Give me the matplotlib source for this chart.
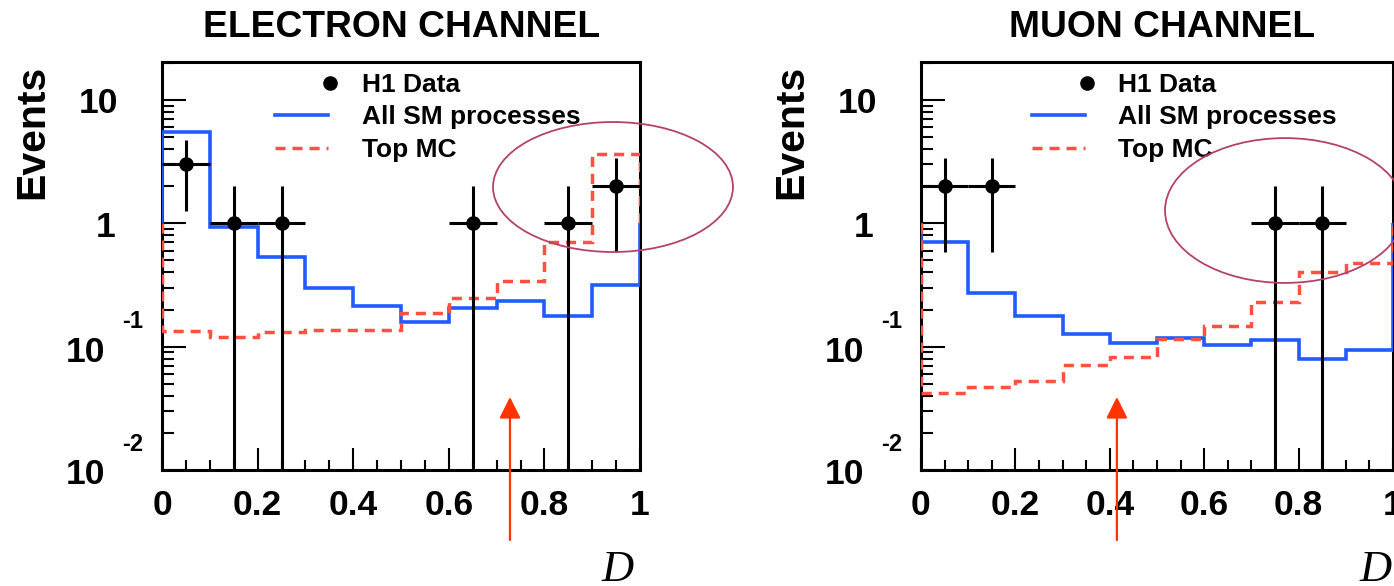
import numpy as np
import matplotlib
matplotlib.use('Agg')
import matplotlib.pyplot as plt
from matplotlib import transforms
from matplotlib.patches import Ellipse, FancyArrowPatch, ArrowStyle
from matplotlib.ticker import LogLocator, MultipleLocator, NullFormatter

plt.rcParams['font.family'] = ['Liberation Sans', 'DejaVu Sans']
plt.rcParams['font.weight'] = 'bold'

# binning of the discriminator D
bin_edges = [0.0, 0.1, 0.2, 0.3, 0.4, 0.5, 0.6, 0.7, 0.8, 0.9, 1.0]
bin_half = 0.05

# electron channel
ele_data_x = [0.05, 0.15, 0.25, 0.65, 0.85, 0.95]
ele_data_n = [3, 1, 1, 1, 1, 2]
ele_sm = [5.5, 0.94, 0.53, 0.30, 0.213, 0.159, 0.205, 0.236, 0.178, 0.316]
ele_top = [0.133, 0.120, 0.132, 0.137, 0.137, 0.188, 0.247, 0.34, 0.70, 3.65]

# muon channel
mu_data_x = [0.05, 0.15, 0.75, 0.85]
mu_data_n = [2, 2, 1, 1]
mu_sm = [0.70, 0.27, 0.178, 0.126, 0.108, 0.117, 0.104, 0.113, 0.080, 0.094]
mu_top = [0.042, 0.047, 0.053, 0.071, 0.082, 0.115, 0.147, 0.229, 0.40, 0.48]

xtick_vals = [0, 0.2, 0.4, 0.6, 0.8, 1.0]
xtick_labels = ['0', '0.2', '0.4', '0.6', '0.8', '1']
ytick_vals = [10, 1, 0.1, 0.01]
ytick_base = ['10', '1', '10', '10']
ytick_exp = ['', '', '-1', '-2']

legend_labels = ['H1 Data', 'All SM processes', 'Top MC']

blue = '#1f5bff'
red = '#ff5040'
ring = '#b5416b'
arrow_col = '#ff3300'

W, H = 1394, 586
fig = plt.figure(figsize=(W / 100, H / 100), dpi=100)
ax_e = fig.add_axes([162 / W, 1 - 470 / H, 478 / W, 408 / H])
ax_m = fig.add_axes([921 / W, 1 - 470 / H, 472 / W, 408 / H])


def px(ax, dx, dy):
    # offset in pixels, x in axes fraction, y in data
    base = transforms.blended_transform_factory(ax.transAxes, ax.transData)
    return base + transforms.ScaledTranslation(dx / 100, dy / 100, fig.dpi_scale_trans)


def panel(ax, sm, top, dx, dn, d_xpos):
    ax.set_yscale('log')
    ax.set_xlim(0, 1)
    ax.set_ylim(0.01, 20.3)

    # ROOT draws the outline edges down to 1 on log scale
    ax.stairs(sm, bin_edges, baseline=1.0, color=blue, lw=2.6, zorder=3)
    ax.stairs(top, bin_edges, baseline=1.0, color=red, lw=2.5,
              linestyle=(0, (2.9, 2.0)), zorder=3)

    dn = np.array(dn, dtype=float)
    ax.errorbar(dx, dn, yerr=np.sqrt(dn), xerr=bin_half, fmt='o', color='k',
                ms=9.5, elinewidth=2.2, capsize=0, zorder=5)

    ax.set_xticks(xtick_vals, labels=xtick_labels)
    ax.xaxis.set_minor_locator(MultipleLocator(0.05))
    ax.yaxis.set_major_locator(LogLocator(base=10))
    ax.yaxis.set_minor_locator(LogLocator(base=10, subs=range(2, 10)))
    ax.yaxis.set_major_formatter(NullFormatter())
    ax.yaxis.set_minor_formatter(NullFormatter())
    ax.tick_params(which='both', direction='in', top=False, right=False)
    ax.tick_params(axis='x', which='major', length=16, width=1.5, pad=14, labelsize=25.5)
    ax.tick_params(axis='x', which='minor', length=7, width=1.5)
    ax.tick_params(axis='y', which='major', length=17, width=1.5)
    ax.tick_params(axis='y', which='minor', length=8.6, width=1.5)
    for sp in ax.spines.values():
        sp.set_linewidth(2.2)

    # ROOT style y labels
    base_dx = [-44, -47, -57, -57]
    base_dy = [-13, -13.4, -15, -14]
    for v, b, e, bx, by in zip(ytick_vals, ytick_base, ytick_exp, base_dx, base_dy):
        ax.text(0, v, b, transform=px(ax, bx, by), ha='right', va='baseline', size=25.5)
        if e:
            ax.text(0, v, e, transform=px(ax, -19, 19), ha='right', va='baseline', size=17)

    # legend
    ax.plot([0.351], [0.9485], 'o', color='k', ms=9.5, transform=ax.transAxes, clip_on=False)
    ax.plot([0.236, 0.347], [0.870, 0.870], color=blue, lw=2.6, transform=ax.transAxes)
    ax.plot([0.236, 0.347], [0.789, 0.789], color=red, lw=2.5, ls=(0, (2.9, 2.0)),
            transform=ax.transAxes)
    for lab, ly in zip(legend_labels, [0.9485, 0.870, 0.789]):
        ax.text(0.418, ly, lab, transform=ax.transAxes + transforms.ScaledTranslation(0, -0.09, fig.dpi_scale_trans),
                ha='left', va='baseline', size=19)

    ax.text(d_xpos, -0.272, 'D', transform=ax.transAxes, ha='right', va='baseline',
            family='Liberation Serif', style='italic', weight='normal', size=32)


panel(ax_e, ele_sm, ele_top, ele_data_x, ele_data_n, 0.987)
panel(ax_m, mu_sm, mu_top, mu_data_x, mu_data_n, 0.998)

fig.text(402 / W, 1 - 37.3 / H, 'ELECTRON CHANNEL', ha='center', va='baseline', size=26.8)
fig.text(1162 / W, 1 - 37.3 / H, 'MUON CHANNEL', ha='center', va='baseline', size=26.8)
fig.text(32 / W, 1 - 65 / H, 'Events', rotation=90, ha='center', va='top', size=29.5)
fig.text(791 / W, 1 - 65 / H, 'Events', rotation=90, ha='center', va='top', size=29.5)

# hand-drawn annotations
ax_e.add_patch(Ellipse((0.9435, 0.6936), 0.502, 0.3186, transform=ax_e.transAxes,
                       fill=False, ec=ring, lw=1.3, clip_on=False, zorder=6))
ax_m.add_patch(Ellipse((0.771, 0.636), 0.508, 0.355, transform=ax_m.transAxes,
                       fill=False, ec=ring, lw=1.3, clip_on=False, zorder=6))
for ax, ax_x in [(ax_e, 0.728), (ax_m, 0.415)]:
    arr = FancyArrowPatch((ax_x, -0.1716), (ax_x, 0.179), transform=ax.transAxes,
                          arrowstyle=ArrowStyle('-|>', head_length=1.3, head_width=0.65),
                          mutation_scale=10, color=arrow_col, lw=1.6,
                          shrinkA=0, shrinkB=0, clip_on=False, zorder=6)
    ax.add_patch(arr)

fig.savefig('out.png', dpi=100)
